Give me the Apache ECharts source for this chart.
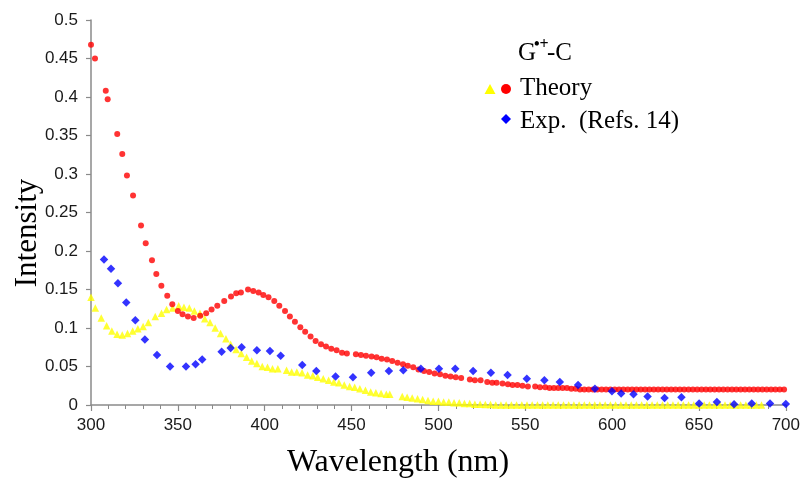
<!DOCTYPE html>
<html>
<head>
<meta charset="utf-8">
<script src="https://cdn.jsdelivr.net/npm/echarts@6/dist/echarts.min.js"></script>
<style>
html,body{margin:0;padding:0;background:#fff;}
#chart{width:803px;height:479px;}
</style>
</head>
<body>
<div id="chart"></div>
<script>
// Theory (red circles)
const theoryRedX = [300,302.3,308.5,309.6,315.1,318,320.7,324.2,328.8,331.5,335.1,337.6,340.5,343.9,346.8,350,352.7,355.8,359.1,362.9,
  366.3,369.4,372.7,376.7,380.6,383.6,386.3,390.4,393.4,396.5,399.2,402.2,405.5,408.4,411.7,414.5,417.4,420.5,423.3,426.4,
  429.3,432.4,435.3,438.3,441.4,444.5,447.3,452.5,455.4,458.3,461.5,464.4,467.3,470.4,473.4,476.5,479.6,482.4,485.5,488.5,
  491.7,494.7,497.8,500.9,504,507,510,513.1,518.1,521,524.3,528.1,531,533.5,536.9,540,542.7,545.5,548.4,551.5,
  555.7,558.5,561.5,564,566.5,569,571.5,574,576.5,579,581.5,584,586.5,589,591.5,594,596.5,599,601.5,604,
  606.5,609,611.5,614,616.5,619,621.5,624,626.5,629,631.5,634,636.5,639,641.5,644,646.5,649,651.5,654,
  656.5,659,661.5,664,666.5,669,671.5,674,676.5,679,681.5,684,686.5,689,691.5,694,696.5,699];
const theoryRedY = [0.468,0.450,0.408,0.397,0.352,0.326,0.298,0.272,0.233,0.210,0.188,0.170,0.155,0.142,0.131,0.122,0.118,0.115,0.113,0.116,
  0.119,0.124,0.129,0.135,0.141,0.145,0.146,0.150,0.148,0.146,0.143,0.140,0.135,0.129,0.122,0.115,0.108,0.101,0.095,0.089,
  0.083,0.079,0.076,0.073,0.071,0.068,0.067,0.066,0.065,0.064,0.063,0.062,0.060,0.059,0.057,0.055,0.053,0.051,0.049,0.046,
  0.044,0.043,0.041,0.040,0.038,0.037,0.036,0.035,0.033,0.032,0.032,0.030,0.029,0.029,0.028,0.027,0.026,0.026,0.025,0.024,
  0.024,0.023,0.023,0.022,0.022,0.022,0.022,0.022,0.021,0.021,0.020,0.020,0.020,0.020,0.020,0.020,0.020,0.020,0.020,0.020,
  0.020,0.020,0.020,0.020,0.020,0.020,0.020,0.020,0.020,0.020,0.020,0.020,0.020,0.020,0.020,0.020,0.020,0.020,0.020,0.020,
  0.020,0.020,0.020,0.020,0.020,0.020,0.020,0.020,0.020,0.020,0.020,0.020,0.020,0.020,0.020,0.020,0.020,0.020];

// Theory (yellow triangles)
const theoryYelX = [300,302.5,305.9,309,312,315,318,321,324,327,330,333,337,340.6,343.5,347,350.5,353.5,356.6,359.5,
  362.7,365.5,368.5,371.5,374.6,377.7,380.4,383.5,386.5,389.6,392.5,395.5,398.6,401.6,404.5,407.6,412.6,415.5,418.5,421.5,
  424.7,427.7,430.5,433.7,436.8,439.8,442.7,445.8,448.9,451.8,454.8,458,461,464,467,470,472,479.2,482,484.9,
  488,490.9,494,497,500,503,506,509,512,515,518,521,524,527,530,533,536,539,542,545,
  548,551,554,557,560,563,566,569,572,575,578,581,584,587,590,593,596,599,602,605,
  608,611,614,617,620,623,626,629,632,635,638,641,644,647,650,653,656,659,662,665,
  668,671,674,677,680,683,686];
const theoryYelY = [0.140,0.126,0.113,0.103,0.096,0.092,0.091,0.093,0.096,0.099,0.102,0.107,0.115,0.119,0.124,0.126,0.129,0.127,0.126,0.122,
  0.119,0.112,0.107,0.100,0.093,0.086,0.079,0.072,0.067,0.062,0.057,0.054,0.050,0.049,0.047,0.047,0.045,0.043,0.043,0.042,
  0.039,0.038,0.036,0.034,0.032,0.030,0.029,0.026,0.024,0.023,0.021,0.019,0.017,0.016,0.015,0.014,0.014,0.011,0.010,0.009,
  0.008,0.007,0.006,0.005,0.005,0.004,0.004,0.003,0.003,0.002,0.002,0.001,0.001,0.0005,0.0005,0,0,0,0,0,
  0,0,0,0,0,0,0,0,0,0,0,0,0,0,0,0,0,0,0,0,
  0,0,0,0,0,0,0,0,0,0,0,0,0,0,0,0,0,0,0,0,
  0,0,0,0,0,0,0];

// Exp. (Refs. 14) (blue diamonds)
const expX = [307.5,311.5,315.5,320.3,325.5,331,338,345.5,354.7,360.2,364,375.2,380.4,386.7,395.5,403,409.2,421.6,429.7,440.8,
  450.8,461.3,471.5,479.8,489.9,500.3,509.7,520,530.2,539.8,550.9,561,569.9,580.4,590.1,599.9,605.2,612.3,620.4,630.2,
  639.9,650.1,660.3,670.2,680.4,690.9,700];
const expY = [0.189,0.177,0.158,0.133,0.110,0.085,0.065,0.050,0.050,0.053,0.059,0.069,0.074,0.075,0.071,0.070,0.064,0.052,0.044,0.037,
  0.036,0.042,0.044,0.045,0.047,0.047,0.047,0.044,0.042,0.039,0.034,0.032,0.030,0.026,0.021,0.018,0.015,0.014,0.011,0.009,
  0.010,0.002,0.004,0.001,0.002,0.002,0.0013];

const xTicks = {min: 300, max: 700, interval: 50};
const yTicks = {min: 0, max: 0.5, interval: 0.05};

const zip = (xs, ys) => xs.map((x, i) => [x, ys[i]]);

const chart = echarts.init(document.getElementById('chart'), null, {renderer: 'canvas'});
const axisColor = '#8a8a8a';
const labelColor = '#1a1a1a';
const sans = 'Liberation Sans, Arial, sans-serif';
const serif = 'Liberation Serif, Times New Roman, serif';

chart.setOption({
  animation: false,
  backgroundColor: '#ffffff',
  grid: {left: 91, right: 17, top: 20, bottom: 74, containLabel: false},
  xAxis: {
    type: 'value', min: xTicks.min, max: xTicks.max, interval: xTicks.interval,
    axisLine: {show: true, onZero: false, lineStyle: {color: axisColor, width: 1.5}},
    axisTick: {show: true, inside: false, length: 6, lineStyle: {color: axisColor, width: 1.2}},
    minorTick: {show: true, splitNumber: 5, length: 4, lineStyle: {color: axisColor, width: 1}},
    splitLine: {show: false},
    axisLabel: {color: labelColor, fontFamily: sans, fontSize: 17, margin: 12}
  },
  yAxis: {
    type: 'value', min: yTicks.min, max: yTicks.max, interval: yTicks.interval,
    axisLine: {show: true, onZero: false, lineStyle: {color: axisColor, width: 1.5}},
    axisTick: {show: true, inside: false, length: 5, lineStyle: {color: axisColor, width: 1.2}},
    splitLine: {show: false},
    axisLabel: {color: labelColor, fontFamily: sans, fontSize: 17, margin: 13,
      formatter: v => String(Math.round(v * 100) / 100)}
  },
  series: [
    {name: 'Theory (triangle)', type: 'scatter', symbol: 'triangle', symbolSize: 7.5,
     itemStyle: {color: '#ffff00'}, data: zip(theoryYelX, theoryYelY), z: 2},
    {name: 'Theory', type: 'scatter', symbol: 'circle', symbolSize: 6,
     itemStyle: {color: '#ff0000'}, data: zip(theoryRedX, theoryRedY), z: 3},
    {name: 'Exp.  (Refs. 14)', type: 'scatter', symbol: 'diamond', symbolSize: 8.5,
     itemStyle: {color: '#0000ff'}, data: zip(expX, expY), z: 4}
  ],
  graphic: [
    {type: 'text', x: 28, y: 233, rotation: Math.PI / 2,
     style: {text: 'Intensity', font: '31px ' + serif, fill: '#000', textAlign: 'center', textVerticalAlign: 'middle'}},
    {type: 'text', x: 398, y: 463,
     style: {text: 'Wavelength (nm)', font: '32px ' + serif, fill: '#000', textAlign: 'center', textVerticalAlign: 'middle'}},
    {type: 'text', x: 518, y: 53,
     style: {text: 'G', font: '25px ' + serif, fill: '#000', textAlign: 'left', textVerticalAlign: 'middle'}},
    {type: 'text', x: 534, y: 45,
     style: {text: '•+', font: 'bold 16px ' + serif, fill: '#000', textAlign: 'left', textVerticalAlign: 'middle'}},
    {type: 'text', x: 547, y: 53,
     style: {text: '-C', font: '25px ' + serif, fill: '#000', textAlign: 'left', textVerticalAlign: 'middle'}},
    {type: 'text', x: 520, y: 88,
     style: {text: 'Theory', font: '25px ' + serif, fill: '#000', textAlign: 'left', textVerticalAlign: 'middle'}},
    {type: 'text', x: 520, y: 121,
     style: {text: 'Exp.  (Refs. 14)', font: '25px ' + serif, fill: '#000', textAlign: 'left', textVerticalAlign: 'middle'}},
    {type: 'polygon', shape: {points: [[490, 84], [495.5, 94], [484.5, 94]]}, style: {fill: '#ffff00'}},
    {type: 'circle', shape: {cx: 506, cy: 89, r: 5}, style: {fill: '#ff0000'}},
    {type: 'polygon', shape: {points: [[506, 114], [511, 119], [506, 124], [501, 119]]}, style: {fill: '#0000ff'}}
  ]
});
</script>
</body>
</html>
